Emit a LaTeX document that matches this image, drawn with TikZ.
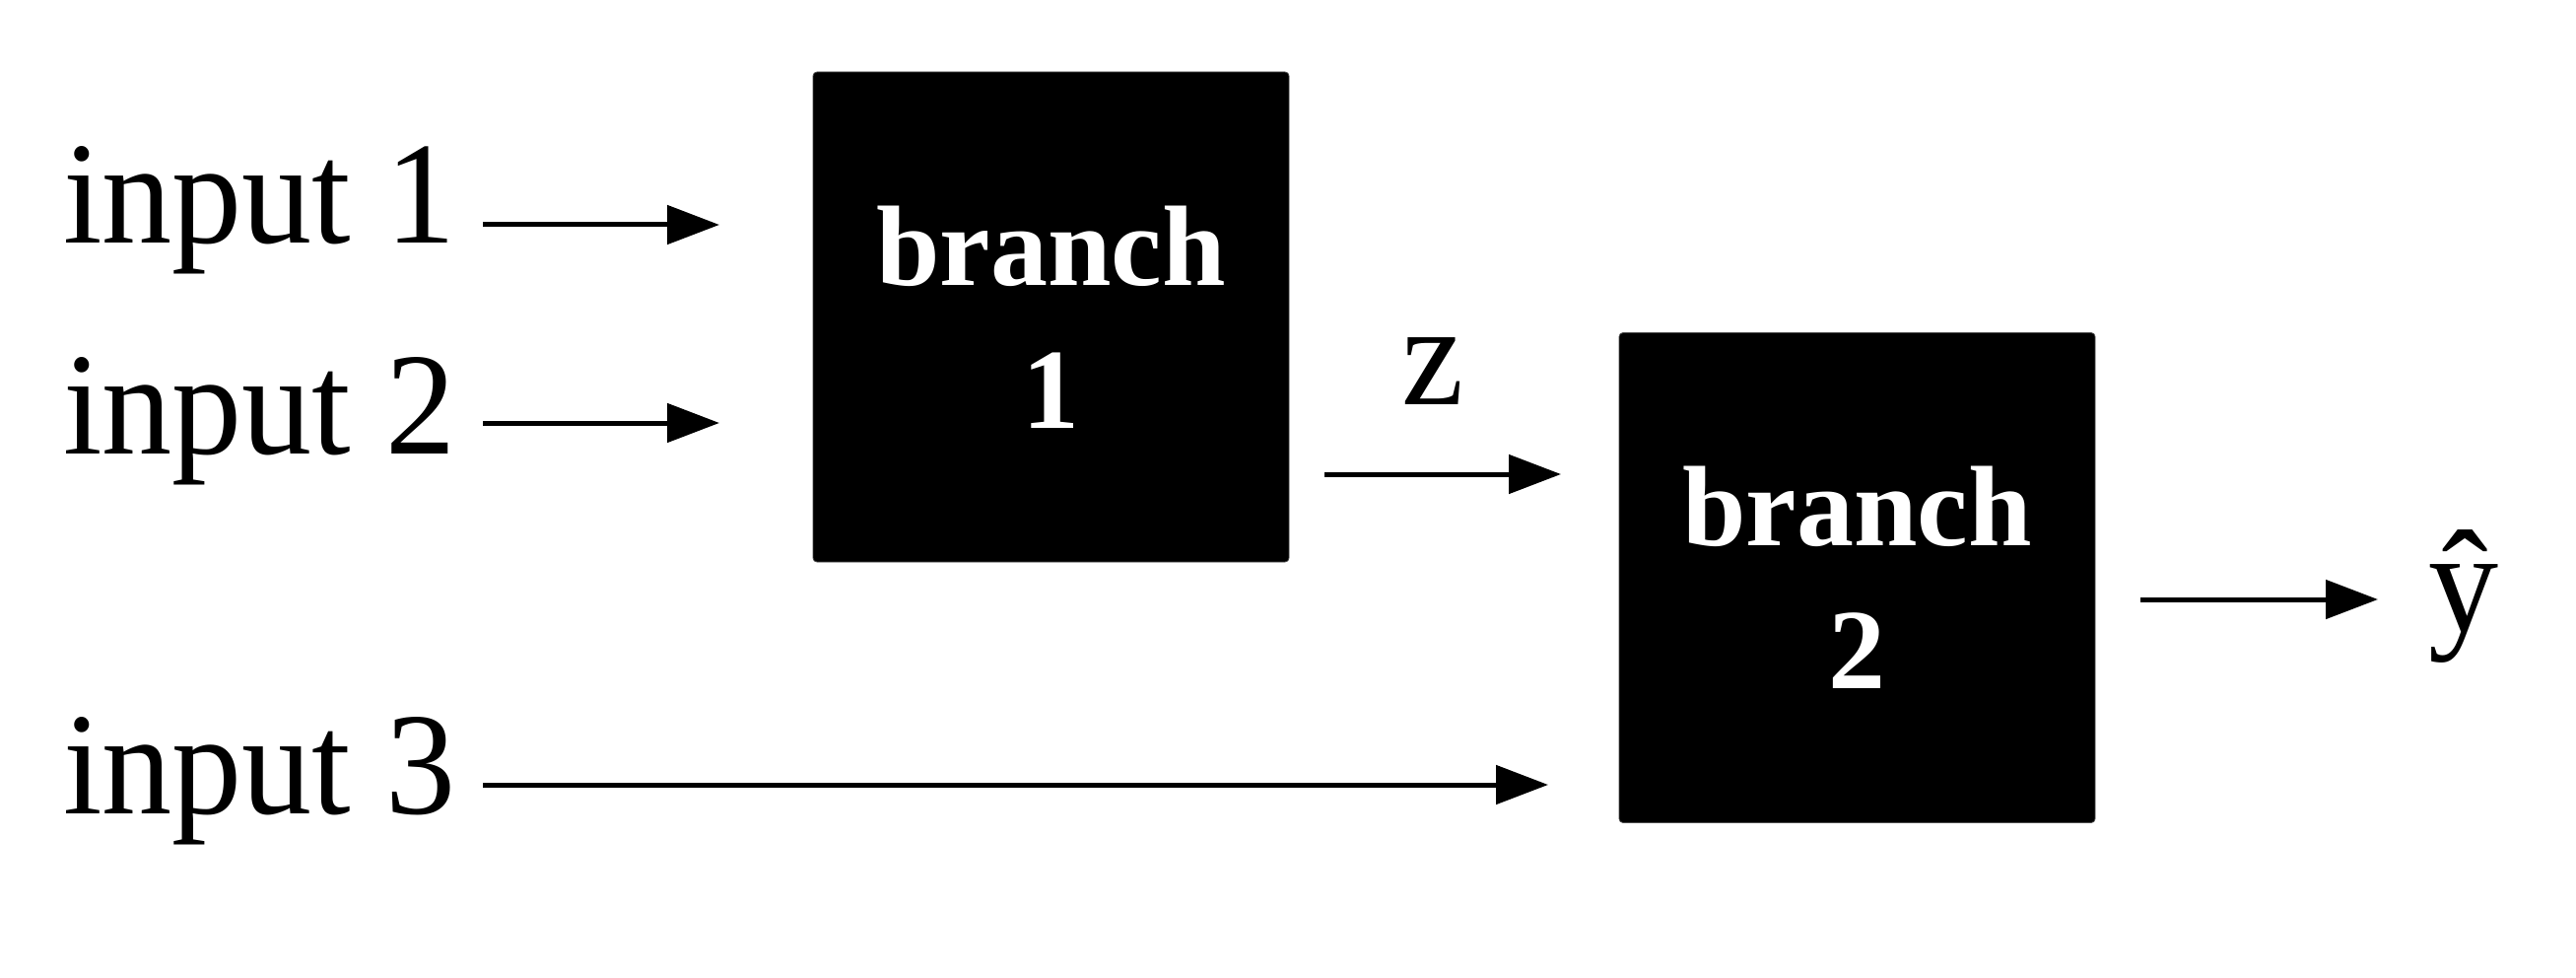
\documentclass[tikz,border=0pt]{standalone}
\usepackage{fontspec}
\setmainfont{Liberation Serif}
\newfontfamily\condserif[FakeStretch=0.96]{Liberation Serif}
\usetikzlibrary{arrows.meta}
\begin{document}
\begin{tikzpicture}[x=1pt,y=-1pt,
  lbl/.style={inner sep=0pt,font=\condserif\fontsize{148}{178}\selectfont},
  branchbox/.style={fill=black,draw=black!70,line width=0.8pt,rounded corners=4pt,inner sep=0pt,
    minimum width=483pt,minimum height=497pt,align=center,text=white,
    font=\fontsize{116}{145}\selectfont\bfseries},
  arr/.style={line width=5pt,-{Triangle[length=53pt,width=39pt]}}]
\useasboundingbox (0,0) rectangle (2614,992);
% inputs
\node[lbl,anchor=base west] (in1) at (64,247) {input 1};
\node[lbl,anchor=base west] (in2) at (64,460) {input 2};
\node[lbl,anchor=base west] (in3) at (64,825) {input 3};
% boxes
\node[branchbox] (b1) at (1066.5,321.5) {branch\\1};
\node[branchbox] (b2) at (1884.5,586) {branch\\2};
% labels
\node[lbl,anchor=base] (z) at (1454,410) {z};
\node[lbl,anchor=base west] (yhat) at (2464,640) {\^{y}};
% connector end points
\coordinate (s1) at (490,228);
\coordinate (t1) at (730,228);
\coordinate (s2) at (490,429);
\coordinate (t2) at (730,429);
\coordinate (s3) at (490,796);
\coordinate (t3) at (1571,796);
\coordinate (sz) at (1344,481);
\coordinate (tz) at (1584,481);
\coordinate (sy) at (2172,608);
\coordinate (ty) at (2413,608);
\draw[arr] (s1) -- (t1);
\draw[arr] (s2) -- (t2);
\draw[arr] (s3) -- (t3);
\draw[arr] (sz) -- (tz);
\draw[arr] (sy) -- (ty);
\end{tikzpicture}
\end{document}
